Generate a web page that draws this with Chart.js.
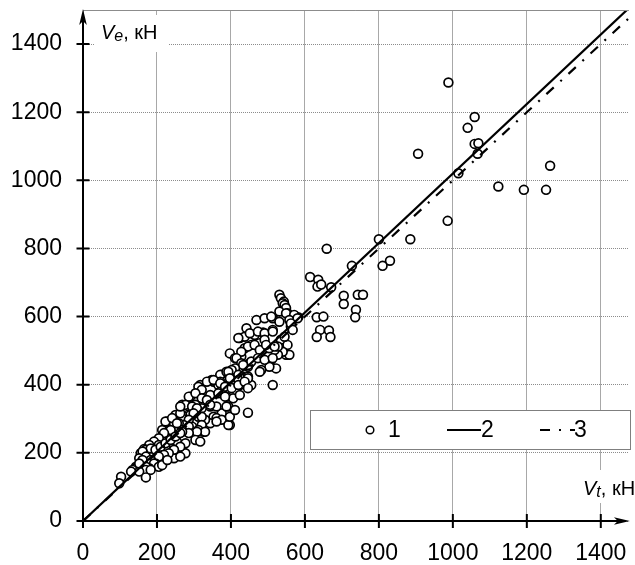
<!DOCTYPE html>
<html lang="ru">
<head>
  <meta charset="UTF-8" />
  <title>Ve / Vt</title>
  <script src="https://cdn.jsdelivr.net/npm/chart.js@4.4.1/dist/chart.umd.min.js"></script>
  <style>
    html, body { margin: 0; padding: 0; background: #ffffff; }
    .wrap { width: 635px; height: 565px; position: relative; }
  </style>
</head>
<body>
<div class="wrap"><canvas id="chart"></canvas></div>

<script>
  // измеренные точки (1)
  const vt = [
    988, 1059, 1040, 1059, 1069, 1067, 906, 1015, 1263, 1123, 1192, 1252, 986, 885, 800, 659, 830, 810, 727, 614,
    636, 634, 644, 671, 705, 705, 743, 757, 738, 736, 632, 650, 641, 665, 632, 669, 582,
    531, 535, 543, 540, 545, 549, 553, 531, 549, 571, 469, 491, 513, 509, 558, 562, 580, 531, 562, 567, 442, 424,
    464, 487, 513, 535, 549, 553, 545, 437, 451, 473, 491, 513, 420, 558, 540, 527, 518, 504, 527, 509, 522, 504,
    482, 478, 451, 446, 428, 437, 455, 478, 491, 446, 464, 478, 495, 518, 428, 397, 411, 415, 428, 446, 455, 473,
    491, 513, 433, 411, 513, 446, 455, 424,
    375, 384, 397, 353, 366, 375, 388, 406, 411, 402, 393, 375, 397, 371, 388, 402, 420, 433, 446, 393, 446, 420,
    397, 371, 348, 317, 335, 353, 371, 384, 402, 420, 437, 446, 312, 321, 304, 290, 286, 304, 321, 344, 366, 384,
    424, 335, 344, 353, 361, 375, 393, 397, 411, 388, 361, 344, 321, 304, 286, 268, 277, 295, 308, 330, 326, 344,
    361, 330, 312, 290, 321, 299, 268, 250, 268, 286, 232, 250, 272, 295, 321, 259, 286, 268, 299, 312, 330, 308,
    286, 268, 250, 232, 214, 304, 317,
    232, 241, 214, 228, 246, 223, 241, 254, 263, 263, 237, 219, 205, 192, 179, 165, 254, 268, 277, 259, 277, 205,
    223, 205, 187, 214, 232, 246, 263, 156, 170, 183, 196, 210, 223, 237, 250, 263, 263, 246, 232, 219, 205, 161,
    170, 183, 152, 161, 196, 192, 205, 214, 228, 179, 170, 170, 183, 143, 143, 134, 152, 152, 130, 170, 103, 98
  ];
  const ve = [
    1287, 1186, 1154, 1107, 1109, 1078, 1078, 1021, 1043, 982, 972, 972, 881, 827, 827, 799, 764, 749, 749, 716,
    708, 688, 694, 686, 661, 637, 664, 664, 620, 598, 598, 600, 561, 559, 540, 540, 598,
    664, 654, 644, 639, 634, 625, 610, 615, 610, 605, 590, 595, 595, 600, 590, 571, 595, 585, 580, 561, 566, 537,
    546, 553, 561, 532, 488, 517, 541, 541, 551, 556, 551, 556, 537, 488, 497, 488, 502, 507, 512, 473, 448, 453,
    443, 438, 463, 453, 483, 507, 517, 522, 532, 512, 517, 502, 517, 512, 497, 492, 478, 478, 463, 458, 468, 478,
    473, 478, 458, 448, 399, 318, 399, 399,
    429, 409, 404, 409, 399, 385, 365, 360, 414, 429, 336, 316, 282, 429, 438, 443, 429, 419, 424, 438, 419, 414,
    419, 409, 414, 399, 409, 414, 404, 394, 390, 399, 409, 390, 394, 385, 365, 365, 365, 375, 360, 370, 375, 365,
    370, 355, 336, 306, 302, 297, 282, 306, 326, 336, 336, 341, 331, 341, 336, 341, 341, 336, 331, 292, 262, 287,
    292, 297, 306, 311, 306, 316, 311, 311, 302, 297, 287, 277, 282, 277, 282, 287, 277, 267, 258, 267, 262, 262,
    258, 262, 253, 258, 267, 238, 233,
    262, 248, 248, 292, 287, 292, 302, 287, 316, 336, 267, 258, 243, 233, 223, 211, 233, 218, 228, 209, 199, 223,
    218, 199, 189, 194, 189, 184, 189, 199, 209, 213, 209, 218, 228, 238, 248, 258, 218, 209, 199, 194, 189, 204,
    189, 179, 184, 179, 169, 169, 159, 164, 179, 155, 159, 150, 150, 159, 155, 150, 145, 169, 145, 128, 130, 111
  ];

  // линии 2 и 3
  const fitX = [0, 1500];
  const fit2Y = [0, 1530];
  const fit3Y = [0, 1500];

  const xTicks = [0, 200, 400, 600, 800, 1000, 1200, 1400];
  const yTicks = [0, 200, 400, 600, 800, 1000, 1200, 1400];
  const legendLabels = ['1', '2', '3'];

  const FONT = "'Liberation Sans', Arial, sans-serif";
  const dashDot = [10, 9, 2, 9];

  const toPoints = (xs, ys) => xs.map((x, i) => ({ x, y: ys[i] }));

  const keepTicks = list => scale => {
    scale.ticks = list.map(v => ({ value: v }));
  };

  // оси со стрелками, подписи осей, легенда
  const decor = {
    id: 'decor',
    afterDraw(chart) {
      const { ctx, chartArea: a, scales: { x, y } } = chart;
      const x0 = x.getPixelForValue(0);
      const y0 = y.getPixelForValue(0);
      ctx.save();

      // верхняя рамка
      ctx.strokeStyle = '#8c8c8c';
      ctx.lineWidth = 1;
      ctx.beginPath();
      ctx.moveTo(a.left, a.top + 0.5);
      ctx.lineTo(a.right, a.top + 0.5);
      ctx.stroke();

      // подписи осей на белом фоне
      ctx.fillStyle = '#fff';
      ctx.fillRect(95, 15, 73, 37);
      ctx.fillRect(577, 470, 60, 33);
      const label = (px, py, main, sub, rest) => {
        ctx.fillStyle = '#000';
        ctx.textBaseline = 'alphabetic';
        ctx.textAlign = 'left';
        ctx.font = 'italic 20px ' + FONT;
        ctx.fillText(main, px, py);
        px += ctx.measureText(main).width;
        ctx.font = 'italic 16px ' + FONT;
        ctx.fillText(sub, px, py + 2);
        px += ctx.measureText(sub).width;
        ctx.font = '20px ' + FONT;
        ctx.fillText(rest, px, py);
      };
      label(101, 38.5, 'V', 'e', ', кН');
      label(583, 495, 'V', 't', ', кН');

      // оси
      ctx.strokeStyle = '#000';
      ctx.fillStyle = '#000';
      ctx.lineWidth = 2;
      ctx.beginPath();
      ctx.moveTo(x0, y0 + 1);
      ctx.lineTo(x0, a.top + 10);
      ctx.moveTo(x0 - 1, y0);
      ctx.lineTo(a.right - 6, y0);
      ctx.stroke();

      ctx.beginPath();
      ctx.moveTo(x0, a.top - 1);
      ctx.lineTo(x0 - 3.8, a.top + 15);
      ctx.lineTo(x0, a.top + 11);
      ctx.lineTo(x0 + 3.8, a.top + 15);
      ctx.closePath();
      ctx.fill();

      ctx.beginPath();
      ctx.moveTo(a.right + 1, y0);
      ctx.lineTo(a.right - 15, y0 - 3.8);
      ctx.lineTo(a.right - 11, y0);
      ctx.lineTo(a.right - 15, y0 + 3.8);
      ctx.closePath();
      ctx.fill();

      ctx.beginPath();
      yTicks.forEach(v => {
        const p = y.getPixelForValue(v);
        ctx.moveTo(x0 - 6.5, p);
        ctx.lineTo(x0 + 6.5, p);
      });
      xTicks.forEach(v => {
        const p = x.getPixelForValue(v);
        ctx.moveTo(p, y0 - 7);
        ctx.lineTo(p, y0 + 7);
      });
      ctx.stroke();

      // легенда
      const ds = chart.data.datasets;
      ctx.fillStyle = '#fff';
      ctx.fillRect(310.5, 410.5, 320, 39);
      ctx.strokeStyle = '#7f7f7f';
      ctx.lineWidth = 1;
      ctx.strokeRect(310.5, 410.5, 320, 39);
      const ly = 430;
      ctx.font = '23px ' + FONT;
      ctx.textBaseline = 'middle';
      ctx.textAlign = 'left';

      ctx.beginPath();
      ctx.arc(370, ly, 3.8, 0, Math.PI * 2);
      ctx.fillStyle = ds[0].backgroundColor;
      ctx.fill();
      ctx.strokeStyle = ds[0].borderColor;
      ctx.lineWidth = 1.5;
      ctx.stroke();
      ctx.fillStyle = '#000';
      ctx.fillText(legendLabels[0], 388, ly + 1);

      ctx.strokeStyle = ds[1].borderColor;
      ctx.lineWidth = ds[1].borderWidth;
      ctx.beginPath();
      ctx.moveTo(447, ly);
      ctx.lineTo(481, ly);
      ctx.stroke();
      ctx.fillText(legendLabels[1], 481, ly + 1);

      ctx.setLineDash(ds[2].borderDash);
      ctx.beginPath();
      ctx.moveTo(540, ly);
      ctx.lineTo(575, ly);
      ctx.stroke();
      ctx.setLineDash([]);
      ctx.fillText(legendLabels[2], 574, ly + 1);

      ctx.restore();
    }
  };

  new Chart(document.getElementById('chart'), {
    type: 'scatter',
    data: {
      datasets: [
        {
          label: legendLabels[0],
          data: toPoints(vt, ve),
          pointRadius: 4.4,
          pointBorderWidth: 1.7,
          borderColor: '#000',
          backgroundColor: '#fff',
          order: 2
        },
        {
          label: legendLabels[1],
          data: toPoints(fitX, fit2Y),
          showLine: true,
          pointRadius: 0,
          borderWidth: 2.2,
          borderColor: '#000',
          order: 0
        },
        {
          label: legendLabels[2],
          data: toPoints(fitX, fit3Y),
          showLine: true,
          pointRadius: 0,
          borderWidth: 2.2,
          borderColor: '#000',
          borderDash: dashDot,
          order: 1
        }
      ]
    },
    options: {
      responsive: true,
      maintainAspectRatio: false,
      animation: false,
      events: [],
      layout: { padding: { top: 10, left: 0, right: 0, bottom: 0 } },
      plugins: {
        legend: { display: false },
        tooltip: { enabled: false }
      },
      scales: {
        x: {
          type: 'linear',
          min: 0,
          max: 1476,
          afterBuildTicks: keepTicks(xTicks),
          afterFit: s => { s.height = 44; s.paddingLeft = 0; s.paddingRight = 0; },
          border: { display: false },
          grid: { color: '#a8a8a8', lineWidth: 1, drawTicks: false },
          ticks: {
            color: '#000',
            padding: 19,
            maxRotation: 0,
            autoSkip: false,
            includeBounds: false,
            callback: v => String(v),
            font: { family: FONT, size: 23 }
          }
        },
        y: {
          type: 'linear',
          min: 0,
          max: 1500,
          afterBuildTicks: keepTicks(yTicks),
          afterFit: s => { s.width = 83; s.paddingTop = 0; s.paddingBottom = 0; },
          border: { display: false, dash: [1, 1] },
          grid: { color: '#8c8c8c', lineWidth: 1, drawTicks: false, borderDash: [1, 1] },
          ticks: {
            color: '#000',
            padding: 21,
            autoSkip: false,
            includeBounds: false,
            callback: v => String(v),
            font: { family: FONT, size: 23 }
          }
        }
      }
    },
    plugins: [decor]
  });
</script>
</body>
</html>
